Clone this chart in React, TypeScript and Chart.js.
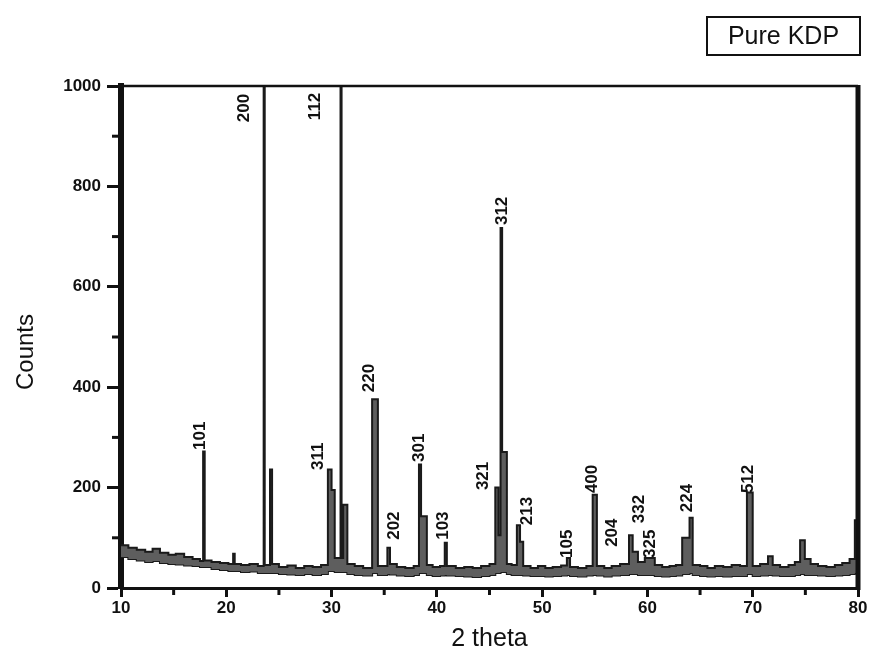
import React, { useEffect, useRef } from "react";
import { Chart, registerables } from "chart.js";

Chart.register(...registerables);

// 2θ positions where each step of the pattern starts
const twoTheta = [
  10.0, 10.7, 11.5, 12.3, 13.0, 13.7, 14.5, 15.2, 16.0, 16.8, 17.5, 17.8, 17.95,
  18.6, 19.4, 20.2, 20.65, 20.8, 21.4, 22.2, 23.0, 23.55, 23.65, 24.15, 24.35,
  25.0, 25.8, 26.6, 27.4, 28.2, 29.0, 29.65, 30.0, 30.3, 30.85, 30.95, 31.1, 31.5,
  32.2, 33.0, 33.85, 34.4, 35.3, 35.55, 36.2, 37.0, 37.8, 38.3, 38.5, 39.05,
  39.6, 40.3, 40.75, 40.95, 41.8, 42.6, 43.4, 44.2, 45.0, 45.55, 45.85, 46.05,
  46.2, 46.65, 47.1, 47.6, 47.9, 48.2, 48.9, 49.6, 50.3, 51.0, 51.8, 52.35, 52.65,
  53.4, 54.2, 54.8, 55.2, 55.9, 56.6, 57.4, 58.25, 58.6, 59.1, 59.75, 60.7, 61.4,
  62.1, 62.7, 63.3, 64.0, 64.3, 65.0, 65.7, 66.4, 67.2, 68.0, 68.8, 69.45, 70.0,
  70.7, 71.45, 71.9, 72.6, 73.4, 74.0, 74.5, 74.95, 75.5, 76.2, 77.0, 77.8, 78.5,
  79.2, 79.7, 80.0,
];

// upper envelope of the recorded counts (peaks included)
const upperCounts = [
  85, 80, 76, 72, 78, 70, 66, 68, 62, 58, 54, 272, 55,
  52, 50, 48, 68, 48, 46, 48, 44, 1400, 46, 236, 48,
  42, 45, 40, 44, 42, 46, 236, 195, 60, 1400, 60, 166, 48,
  44, 40, 376, 44, 80, 48, 42, 40, 44, 246, 143, 46,
  42, 44, 90, 44, 40, 42, 40, 44, 48, 200, 105, 717,
  271, 48, 46, 125, 92, 44, 40, 44, 40, 42, 45, 60, 42,
  40, 44, 186, 44, 40, 44, 48, 105, 72, 52, 60, 46, 42,
  44, 46, 100, 140, 46, 44, 40, 44, 42, 46, 44, 190, 44,
  48, 63, 46, 42, 46, 52, 95, 58, 48, 44, 42, 46, 50,
  58, 135, 135,
];

// lower envelope of the noise band
const lowerCounts = [
  62, 58, 55, 52, 54, 50, 48, 47, 45, 44, 42, 42, 42,
  38, 36, 34, 34, 34, 32, 33, 30, 30, 30, 30, 30,
  28, 27, 26, 28, 26, 28, 34, 34, 32, 32, 32, 32, 28,
  26, 25, 30, 26, 28, 27, 25, 24, 26, 30, 30, 26,
  24, 25, 26, 25, 24, 23, 22, 24, 26, 30, 30, 32,
  32, 28, 26, 26, 26, 25, 24, 24, 23, 24, 25, 26, 24,
  23, 25, 26, 25, 23, 25, 26, 28, 28, 26, 26, 24, 23,
  24, 25, 28, 30, 26, 24, 23, 24, 23, 24, 24, 28, 24,
  25, 26, 25, 24, 24, 26, 28, 26, 26, 25, 24, 25, 26,
  28, 30, 30,
];

const xTickValues = [10, 20, 30, 40, 50, 60, 70, 80];
const xMinorTickValues = [15, 25, 35, 45, 55, 65, 75];
const yTickValues = [0, 200, 400, 600, 800, 1000];
const yMinorTickValues = [100, 300, 500, 700, 900];

// Miller-index labels: text, 2θ of the label centre, counts at the label's lower end
const peakLabels = ["101", "200", "112", "311", "220", "202", "301", "103", "321", "312", "213", "105", "400", "204", "332", "325", "224", "512"];
const peakLabelTheta = [17.5, 21.7, 28.5, 28.7, 33.55, 36.0, 38.3, 40.6, 44.4, 46.2, 48.55, 52.35, 54.8, 56.7, 59.2, 60.3, 63.75, 69.6];
const peakLabelCounts = [275, 928, 932, 235, 390, 96, 251, 96, 195, 723, 125, 60, 189, 82, 129, 60, 151, 189];

const chartTitle = "Pure KDP";
const xAxisTitle = "2 theta";
const yAxisTitle = "Counts";

const FONT = "'Liberation Sans', Arial, sans-serif";

export default function App() {
  const ref = useRef<HTMLCanvasElement | null>(null);

  useEffect(() => {
    const canvas = ref.current;
    if (!canvas) return;

    const decorPlugin = {
      id: "decor",
      afterDatasetsDraw(chart: any) {
        const { ctx, scales } = chart;
        const xs = scales.x;
        const ys = scales.y;
        ctx.save();
        ctx.fillStyle = "#111";
        ctx.font = `bold 17px ${FONT}`;
        ctx.textAlign = "left";
        ctx.textBaseline = "middle";
        peakLabels.forEach((t, i) => {
          const px = xs.getPixelForValue(peakLabelTheta[i]);
          const py = ys.getPixelForValue(peakLabelCounts[i]);
          ctx.save();
          ctx.translate(px, py);
          ctx.rotate(-Math.PI / 2);
          ctx.fillText(t, 0, 0);
          ctx.restore();
        });
        ctx.restore();
      },
      afterDraw(chart: any) {
        const { ctx, chartArea, scales } = chart;
        const xs = scales.x;
        const ys = scales.y;
        ctx.save();
        ctx.strokeStyle = "#111";
        ctx.lineWidth = 5;
        ctx.beginPath();
        ctx.moveTo(chartArea.right, chartArea.top - 1);
        ctx.lineTo(chartArea.right, chartArea.bottom + 2);
        ctx.stroke();
        ctx.lineWidth = 2.5;
        ctx.beginPath();
        ctx.moveTo(chartArea.left, chartArea.top);
        ctx.lineTo(chartArea.right, chartArea.top);
        ctx.stroke();
        ctx.lineWidth = 3;
        yMinorTickValues.forEach((v) => {
          const py = ys.getPixelForValue(v);
          ctx.beginPath();
          ctx.moveTo(chartArea.left - 2, py);
          ctx.lineTo(chartArea.left - 9, py);
          ctx.stroke();
        });
        xMinorTickValues.forEach((v) => {
          const px = xs.getPixelForValue(v);
          ctx.beginPath();
          ctx.moveTo(px, chartArea.bottom + 1);
          ctx.lineTo(px, chartArea.bottom + 7);
          ctx.stroke();
        });
        // y axis title
        ctx.fillStyle = "#111";
        ctx.font = `24px ${FONT}`;
        ctx.textAlign = "center";
        ctx.textBaseline = "middle";
        ctx.save();
        ctx.translate(26, 352);
        ctx.rotate(-Math.PI / 2);
        ctx.fillText(yAxisTitle, 0, 0);
        ctx.restore();
        // title box
        const bx = 707, by = 17, bw = 153, bh = 38;
        ctx.lineWidth = 2;
        ctx.strokeRect(bx, by, bw, bh);
        ctx.font = `25px ${FONT}`;
        ctx.fillText(chartTitle, bx + bw / 2, by + bh / 2 + 1);
        ctx.restore();
      },
    };

    const upperData = twoTheta.map((x, i) => ({ x, y: upperCounts[i] }));
    const lowerData = twoTheta.map((x, i) => ({ x, y: lowerCounts[i] }));

    const chart = new Chart(canvas, {
      type: "line",
      data: {
        datasets: [
          {
            label: "upper",
            data: upperData,
            stepped: true,
            borderColor: "#1a1a1a",
            borderWidth: 2,
            pointRadius: 0,
            fill: "+1",
            backgroundColor: "#5e5e5e",
          },
          {
            label: "lower",
            data: lowerData,
            stepped: true,
            borderColor: "#1a1a1a",
            borderWidth: 2,
            pointRadius: 0,
            fill: false,
          },
        ],
      },
      options: {
        responsive: false,
        animation: false,
        layout: { padding: { top: 86, right: 13, left: 0, bottom: 0 } },
        plugins: { legend: { display: false }, tooltip: { enabled: false } },
        scales: {
          x: {
            type: "linear",
            min: 10,
            max: 80,
            afterBuildTicks: (s: any) => {
              s.ticks = xTickValues.map((v) => ({ value: v }));
            },
            afterFit: (s: any) => {
              s.height = 72;
            },
            ticks: {
              color: "#111",
              font: { family: FONT, size: 17, weight: "bold" },
              padding: 1,
              callback: (v: any) => String(v),
            },
            grid: {
              drawOnChartArea: false,
              drawTicks: true,
              tickLength: 9,
              tickWidth: 3,
              tickColor: "#111",
            },
            border: { display: true, color: "#111", width: 3 },
            title: {
              display: true,
              text: xAxisTitle,
              color: "#111",
              font: { family: FONT, size: 25 },
              padding: { top: 0, bottom: 6 },
            },
          },
          y: {
            type: "linear",
            min: 0,
            max: 1000,
            afterBuildTicks: (s: any) => {
              s.ticks = yTickValues.map((v) => ({ value: v }));
            },
            afterFit: (s: any) => {
              s.width = 121;
            },
            ticks: {
              color: "#111",
              font: { family: FONT, size: 17, weight: "bold" },
              padding: 6,
              callback: (v: any) => String(v),
            },
            grid: {
              drawOnChartArea: false,
              drawTicks: true,
              tickLength: 14,
              tickWidth: 3,
              tickColor: "#111",
            },
            border: { display: true, color: "#111", width: 6 },
            title: { display: false },
          },
        },
      },
      plugins: [decorPlugin],
    });

    return () => chart.destroy();
  }, []);

  return (
    <div style={{ position: "absolute", left: 0, top: 0, width: 871, height: 660, background: "#fff" }}>
      <canvas ref={ref} width={871} height={660} style={{ width: 871, height: 660, display: "block" }} />
    </div>
  );
}
